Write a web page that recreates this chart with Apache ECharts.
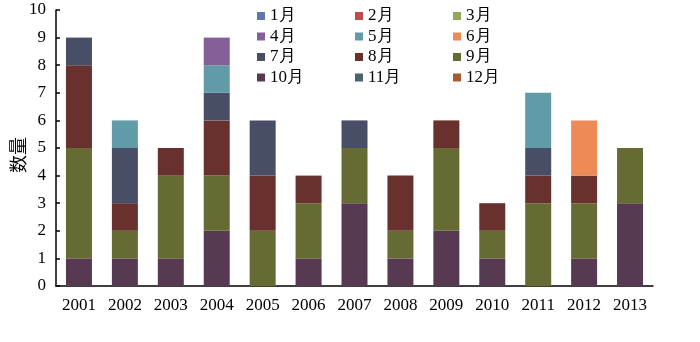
<!DOCTYPE html>
<html><head><meta charset="utf-8">
<script src="https://cdn.jsdelivr.net/npm/echarts@6/dist/echarts.min.js"></script>
<style>html,body{margin:0;padding:0;background:#fff}#c{width:700px;height:342px}</style>
</head><body><div id="c"></div>
<script>
const years = ['2001','2002','2003','2004','2005','2006','2007','2008','2009','2010','2011','2012','2013'];
const months = ['1月','2月','3月','4月','5月','6月','7月','8月','9月','10月','11月','12月'];
const yTitle = '数量';
const m1  = [0,0,0,0,0,0,0,0,0,0,0,0,0];
const m2  = [0,0,0,0,0,0,0,0,0,0,0,0,0];
const m3  = [0,0,0,0,0,0,0,0,0,0,0,0,0];
const m4  = [0,0,0,1,0,0,0,0,0,0,0,0,0];
const m5  = [0,1,0,1,0,0,0,0,0,0,2,0,0];
const m6  = [0,0,0,0,0,0,0,0,0,0,0,2,0];
const m7  = [1,2,0,1,2,0,1,0,0,0,1,0,0];
const m8  = [3,1,1,2,2,1,0,2,1,1,1,1,0];
const m9  = [4,1,3,2,2,2,2,1,3,1,3,2,2];
const m10 = [1,1,1,2,0,1,3,1,2,1,0,1,3];
const m11 = [0,0,0,0,0,0,0,0,0,0,0,0,0];
const m12 = [0,0,0,0,0,0,0,0,0,0,0,0,0];
const monthData = [m1,m2,m3,m4,m5,m6,m7,m8,m9,m10,m11,m12];
const colors = ['#5F78A8','#BB4E4B','#92A85A','#845F98','#629BA8','#EE8A55','#474E66','#68312D','#656B33','#573A52','#4A636C','#A55A30'];

const serif = '"Liberation Serif","Times New Roman",serif';
const series = [];
for (let i = 11; i >= 0; i--) {
  series.push({
    name: months[i], type: 'bar', stack: 'total', data: monthData[i],
    barWidth: 26, itemStyle: {color: colors[i]}
  });
}
function legendCol(items, left) {
  return {
    orient: 'vertical', left: left, top: 7, itemWidth: 8, itemHeight: 8, itemGap: 2.5,
    icon: 'rect', data: items,
    textStyle: {fontFamily: serif, fontSize: 17, color: '#000', lineHeight: 18, padding: [0,0,0,0]},
    padding: 0, selectedMode: false
  };
}
const chart = echarts.init(document.getElementById('c'));
chart.setOption({
  animation: false,
  color: colors,
  legend: [
    legendCol([months[0],months[3],months[6],months[9]], 257),
    legendCol([months[1],months[4],months[7],months[10]], 355),
    legendCol([months[2],months[5],months[8],months[11]], 453)
  ],
  graphic: [{
    type: 'text', x: 18, y: 155, rotation: Math.PI / 2,
    style: {text: yTitle, fontFamily: '"Noto Sans CJK SC"', fontSize: 18, fill: '#000', align: 'center', verticalAlign: 'middle'}
  }],
  grid: {left: 56, right: 47, top: 10, bottom: 56, containLabel: false, outerBoundsMode: 'none'},
  xAxis: {
    type: 'category', data: years,
    axisLine: {lineStyle: {color: '#000', width: 1.5}},
    axisTick: {inside: true, length: 5, lineStyle: {color: '#000', width: 1.5}},
    axisLabel: {fontFamily: serif, fontSize: 17, color: '#000', margin: 11}
  },
  yAxis: {
    type: 'value', min: 0, max: 10, interval: 1,
    axisLine: {show: true, lineStyle: {color: '#000', width: 1.5}},
    axisTick: {show: true, inside: true, length: 4, lineStyle: {color: '#000', width: 1.5}},
    axisLabel: {fontFamily: serif, fontSize: 17, color: '#000', margin: 10},
    splitLine: {show: false}
  },
  series: series
});
</script></body></html>
